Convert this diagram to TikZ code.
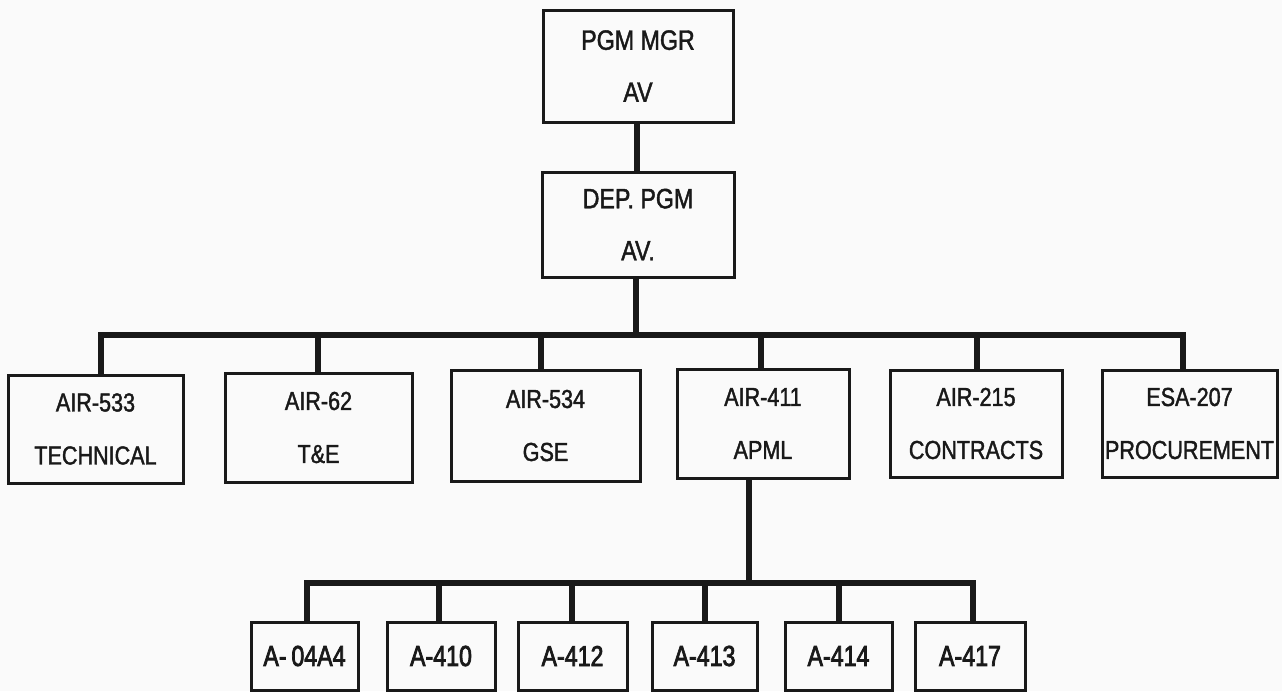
\documentclass[tikz,border=0pt]{standalone}
\usepackage{fontspec}
\setmainfont{Liberation Sans}[FakeStretch=0.83, FakeBold=1.5]
\newfontfamily\lowfont{Liberation Sans}[FakeStretch=0.80, FakeBold=2.5]
\begin{document}
\begin{tikzpicture}[x=1pt,y=-1pt,
  orgbox/.style={draw=black!90, line width=3pt, inner sep=0pt, align=center, text=black!90},
  topbox/.style={orgbox, font=\fontsize{28}{52}\selectfont},
  midbox/.style={orgbox, font=\fontsize{26}{53}\selectfont},
  lowbox/.style={orgbox, font=\lowfont\fontsize{29}{34}\selectfont},
  link/.style={draw=black!90, line width=6pt}]
\fill[black!2] (0,0) rectangle (1282,691);
\useasboundingbox (0,0) rectangle (1282,691);

% top
\node[topbox, minimum width=190pt, minimum height=112pt] (pgm) at (638,66) {PGM MGR\\AV};
\node[topbox, minimum width=192pt, minimum height=105pt] (dep) at (638,224.5) {DEP. PGM\\AV.};

% second row
\node[midbox, minimum width=175pt, minimum height=108pt] (a533) at (95.5,429) {AIR-533\\TECHNICAL};
\node[midbox, minimum width=187pt, minimum height=109pt] (a62) at (318.5,427.5) {AIR-62\\T\&E};
\node[midbox, minimum width=189pt, minimum height=111pt] (a534) at (545.5,425.5) {AIR-534\\GSE};
\node[midbox, minimum width=172pt, minimum height=109pt] (a411) at (763,423.5) {AIR-411\\APML};
\node[midbox, minimum width=172pt, minimum height=107pt] (a215) at (976,423.5) {AIR-215\\CONTRACTS};
\node[midbox, minimum width=175pt, minimum height=107pt] (esa) at (1189.5,423.5) {ESA-207\\PROCUREMENT};

% bottom row
\node[lowbox, minimum width=107pt, minimum height=68pt] (b1) at (304.5,656) {A-\,04A4};
\node[lowbox, minimum width=108pt, minimum height=68pt] (b2) at (441,656) {A-410};
\node[lowbox, minimum width=109pt, minimum height=68pt] (b3) at (572.5,656) {A-412};
\node[lowbox, minimum width=105pt, minimum height=68pt] (b4) at (704.5,656) {A-413};
\node[lowbox, minimum width=107pt, minimum height=68pt] (b5) at (838.5,656) {A-414};
\node[lowbox, minimum width=110pt, minimum height=68pt] (b6) at (970,656) {A-417};

% junctions
\coordinate (bus) at (636,335);
\coordinate (j1) at (101,335);
\coordinate (j2) at (318,335);
\coordinate (j3) at (541,335);
\coordinate (j4) at (761,335);
\coordinate (j5) at (977,335);
\coordinate (j6) at (1183,335);
\coordinate (low) at (749,583);
\coordinate (k1) at (307,583);
\coordinate (k2) at (439,583);
\coordinate (k3) at (572,583);
\coordinate (k4) at (705,583);
\coordinate (k5) at (839,583);
\coordinate (k6) at (973,583);

% connectors
\draw[link] (pgm.south -| 637,0) -- (dep.north -| 637,0);
\draw[link] (dep.south -| bus) -- (bus);
\draw[link, line cap=rect] (j1) -- (j6);
\draw[link] (j1) -- (j1 |- a533.north);
\draw[link] (j2) -- (j2 |- a62.north);
\draw[link] (j3) -- (j3 |- a534.north);
\draw[link] (j4) -- (j4 |- a411.north);
\draw[link] (j5) -- (j5 |- a215.north);
\draw[link] (j6) -- (j6 |- esa.north);
\draw[link] (a411.south -| low) -- (low);
\draw[link, line cap=rect] (k1) -- (k6);
\draw[link] (k1) -- (k1 |- b1.north);
\draw[link] (k2) -- (k2 |- b2.north);
\draw[link] (k3) -- (k3 |- b3.north);
\draw[link] (k4) -- (k4 |- b4.north);
\draw[link] (k5) -- (k5 |- b5.north);
\draw[link] (k6) -- (k6 |- b6.north);
\end{tikzpicture}
\end{document}
